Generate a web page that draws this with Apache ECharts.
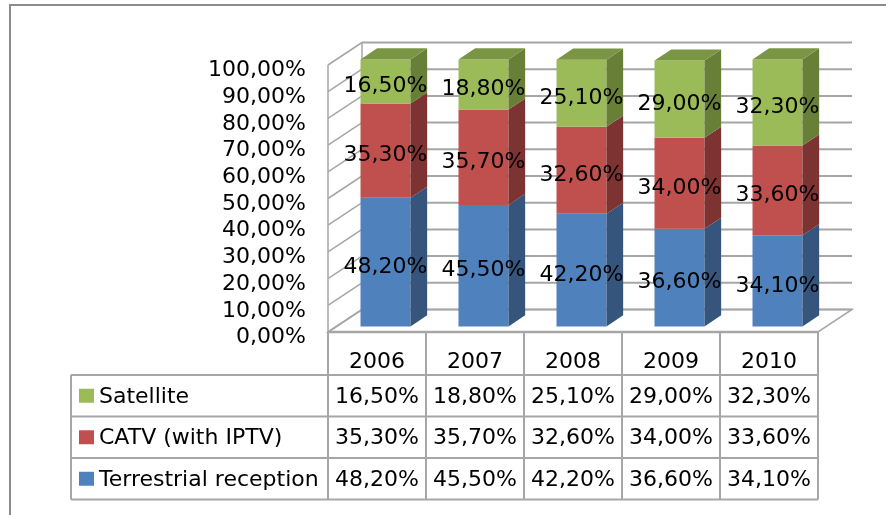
<!DOCTYPE html>
<html>
<head>
<meta charset="UTF-8">
<title>TV reception</title>
<script src="https://cdn.jsdelivr.net/npm/echarts@6/dist/echarts.min.js"></script>
<style>
  html, body { margin: 0; padding: 0; background: #fff; }
  #chart { width: 886px; height: 515px; }
</style>
</head>
<body>
<div id="chart"></div>
<script>
// data
const years = ['2006', '2007', '2008', '2009', '2010'];
const terrestrial = [48.2, 45.5, 42.2, 36.6, 34.1];
const catv = [35.3, 35.7, 32.6, 34.0, 33.6];
const satellite = [16.5, 18.8, 25.1, 29.0, 32.3];
const layerNames = ['Terrestrial reception', 'CATV (with IPTV)', 'Satellite'];
const yTicks = [0, 10, 20, 30, 40, 50, 60, 70, 80, 90, 100];

const FONT = 'DejaVu Sans';
const FS = 22;
const GRID = '#a6a6a6';
const WALL = [34, -22.5];      // depth of the 3d box
const BAR_F = 0.25, BAR_B = 0.74; // bar front/back depth fraction
const layerColors = [
  { front: '#4f81bd', side: '#35557d', top: '#3f6a9e' },
  { front: '#c0504d', side: '#7d3331', top: '#a3403d' },
  { front: '#9bbb59', side: '#687f38', top: '#7a9644' }
];
const layers = [terrestrial, catv, satellite];
// table row order, top to bottom
const tableRows = [2, 1, 0];
const TABLE_LEFT = 71, HEADER_H = 43, ROW_H = 41.5;

function pct(v) {
  return v.toFixed(2).replace('.', ',') + '%';
}

function line(x1, y1, x2, y2, w) {
  return { type: 'line', shape: { x1, y1, x2, y2 }, style: { stroke: GRID, lineWidth: w || 1.5 } };
}

function txt(x, y, s, align) {
  return {
    type: 'text',
    style: { x, y, text: s, fill: '#000', font: FS + 'px "' + FONT + '"', align: align || 'center', verticalAlign: 'middle' }
  };
}

// walls, floor, y labels and table lines
function renderFrame(params, api) {
  const bw = api.size([1, 0])[0];
  const L = api.coord([0, 0])[0] - bw / 2;
  const R = api.coord([years.length - 1, 0])[0] + bw / 2;
  const y0 = api.coord([0, 0])[1];
  const [dx, dy] = WALL;
  const ch = [];
  ch.push({
    type: 'polygon',
    shape: { points: [[L, y0], [R, y0], [R + dx, y0 + dy], [L + dx, y0 + dy]] },
    style: { fill: '#fff', stroke: GRID, lineWidth: 1.5 }
  });
  yTicks.forEach(t => {
    const y = api.coord([0, t])[1];
    ch.push(line(L + dx, y + dy, R + dx, y + dy, 2));
    ch.push(line(L, y, L + dx, y + dy));
    ch.push(txt(L - 22, y + 5.5, pct(t), 'right'));
  });
  const yTop = api.coord([0, 100])[1];
  ch.push(line(L, y0, L, yTop));
  ch.push(line(L + dx, y0 + dy, L + dx, yTop + dy));

  // table
  const tTop = y0 + HEADER_H;
  const tBot = tTop + ROW_H * 3;
  ch.push(line(L, y0, R, y0, 2.5));
  for (let k = 0; k <= years.length; k++) {
    ch.push(line(L + k * bw, y0, L + k * bw, tBot, 2));
  }
  for (let r = 0; r <= 3; r++) {
    ch.push(line(TABLE_LEFT, tTop + r * ROW_H, R, tTop + r * ROW_H, 2));
  }
  ch.push(line(TABLE_LEFT, tTop, TABLE_LEFT, tBot, 2));
  return { type: 'group', children: ch };
}

function stackBases(k) {
  return layers[k].map((_, i) => layers.slice(0, k).reduce((s, l) => s + l[i], 0));
}

function makeBars(k) {
  const vals = layers[k];
  const bases = stackBases(k);
  const col = layerColors[k];
  const isTop = k === layers.length - 1;
  return {
    type: 'custom',
    name: layerNames[k],
    z: 3 + k,
    data: vals.map((v, i) => [i, bases[i], v]),
    renderItem: (params, api) => {
      const i = api.value(0), b = api.value(1), v = api.value(2);
      const bw = api.size([1, 0])[0];
      const w = bw * 0.51;
      const pb = api.coord([i, b]);
      const pt = api.coord([i, b + v]);
      const fx = WALL[0] * BAR_F, fy = WALL[1] * BAR_F;
      const sx = WALL[0] * (BAR_B - BAR_F), sy = WALL[1] * (BAR_B - BAR_F);
      const x0 = pb[0] - w / 2 + fx;
      const x1 = x0 + w;
      const yb = pb[1] + fy, yt = pt[1] + fy;
      const ch = [
        { type: 'rect', shape: { x: x0, y: yt, width: w, height: yb - yt }, style: { fill: col.front } },
        { type: 'polygon', shape: { points: [[x1, yb], [x1, yt], [x1 + sx, yt + sy], [x1 + sx, yb + sy]] }, style: { fill: col.side } }
      ];
      if (isTop) {
        ch.push({ type: 'polygon', shape: { points: [[x0, yt], [x1, yt], [x1 + sx, yt + sy], [x0 + sx, yt + sy]] }, style: { fill: col.top } });
      }
      return { type: 'group', children: ch };
    }
  };
}

function makeLabels(k) {
  const vals = layers[k];
  const bases = stackBases(k);
  return {
    type: 'custom',
    z: 10,
    data: vals.map((v, i) => [i, bases[i], v]),
    renderItem: (params, api) => {
      const i = api.value(0), b = api.value(1), v = api.value(2);
      const p = api.coord([i, b + v / 2]);
      return txt(p[0] + WALL[0] * BAR_F, p[1] + WALL[1] * BAR_F + 5, pct(v));
    }
  };
}

function makeTableRow(k) {
  const r = tableRows.indexOf(k);
  const vals = layers[k];
  return {
    type: 'custom',
    z: 10,
    data: vals.map((v, i) => [i, v]),
    renderItem: (params, api) => {
      const i = api.value(0), v = api.value(1);
      const y0 = api.coord([0, 0])[1];
      const yc = y0 + HEADER_H + r * ROW_H + ROW_H / 2 + 1.5;
      const x = api.coord([i, 0])[0];
      const ch = [txt(x, yc, pct(v))];
      if (i === 0) {
        ch.push({ type: 'rect', shape: { x: TABLE_LEFT + 8, y: yc - 8.5, width: 15, height: 14 }, style: { fill: layerColors[k].front } });
        ch.push(txt(TABLE_LEFT + 28, yc, layerNames[k], 'left'));
      }
      return { type: 'group', children: ch };
    }
  };
}

const chart = echarts.init(document.getElementById('chart'));

const option = {
  animation: false,
  backgroundColor: '#fff',
  graphic: [{
    type: 'rect',
    z: -10,
    shape: { x: 10, y: 5, width: 900, height: 600 },
    style: { fill: 'none', stroke: '#8c8c8c', lineWidth: 2 }
  }],
  grid: { left: 328, right: 68, top: 65, bottom: 183 },
  xAxis: {
    type: 'category',
    data: years,
    axisLine: { show: false },
    axisTick: { show: false },
    splitLine: { show: false },
    axisLabel: { fontFamily: FONT, fontSize: FS, color: '#000', margin: 19 }
  },
  yAxis: {
    type: 'value',
    min: 0,
    max: 100,
    interval: 10,
    axisLine: { show: false },
    axisTick: { show: false },
    splitLine: { show: false },
    axisLabel: { show: false }
  },
  series: [
    { type: 'custom', z: 1, data: [[0, 0]], renderItem: renderFrame },
    makeBars(0), makeBars(1), makeBars(2),
    makeLabels(0), makeLabels(1), makeLabels(2),
    makeTableRow(0), makeTableRow(1), makeTableRow(2)
  ]
};

chart.setOption(option);
</script>
</body>
</html>
